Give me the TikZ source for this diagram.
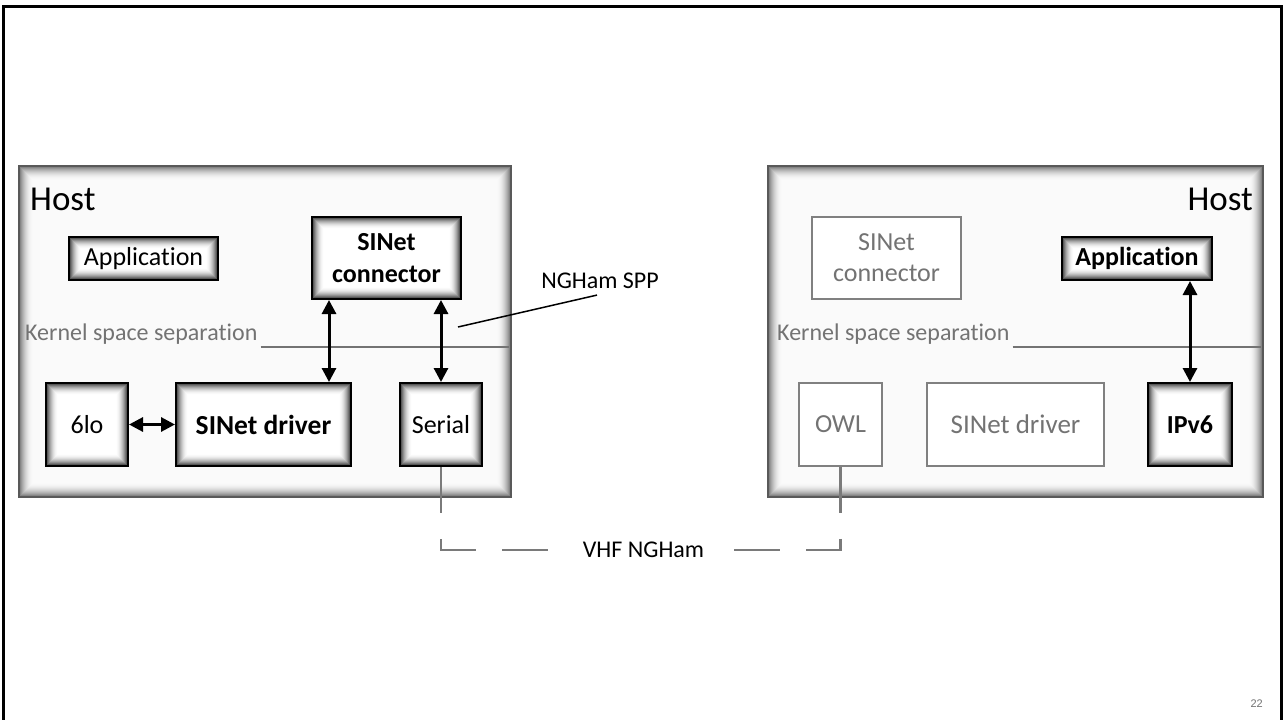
\documentclass[tikz,border=0pt]{standalone}
\usepackage{fontspec}
\setmainfont{Carlito}[Ligatures={NoCommon}]
\newfontfamily\arialf{Liberation Sans}
\usetikzlibrary{arrows.meta,calc}
\colorlet{hostedge}{black!55}
\colorlet{hostmid}{black!2}
\colorlet{dedge}{black!78}
\colorlet{dmid}{white}
\tikzset{
  glow/.style n args={4}{path picture={
    \foreach \gi in {0,...,#4}{
      \pgfmathsetmacro\gp{100*(1-\gi/#4)*(1-\gi/#4)}
      \pgfmathsetmacro\gd{\gi*#3/#4}
      \fill[#1!\gp!#2] ([xshift=\gd pt,yshift=-\gd pt]path picture bounding box.north west) rectangle ([xshift=-\gd pt,yshift=\gd pt]path picture bounding box.south east);
    }}},
  hostbox/.style={draw=black!65, line width=1.5pt, glow={hostedge}{hostmid}{14}{14}, inner sep=0pt},
  dbox/.style={draw=black, line width=2pt, glow={dedge}{dmid}{12}{12}, inner sep=0pt, align=center,
    font=\fontsize{26}{31}\selectfont},
  gbox/.style={draw=black!50, line width=1.5pt, fill=white, text=black!55, inner sep=0pt, align=center,
    font=\fontsize{26}{31}\selectfont},
  arr/.style={line width=3pt, {Triangle[length=14pt,width=14pt]}-{Triangle[length=14pt,width=14pt]}},
  kline/.style={draw=black!55, line width=1.8pt},
  ktext/.style={anchor=base west, text=black!55, font=\fontsize{24}{28}\selectfont, inner sep=0pt},
  htext/.style={font=\fontsize{35}{40}\selectfont, inner sep=0pt},
  radio/.style={draw=black!52, line width=2.5pt, dash pattern=on 46pt off 26pt},
}
\begin{document}
\begin{tikzpicture}[x=1pt,y=-1pt]
\useasboundingbox[fill=white] (0,0) rectangle (1285,720);
% slide frame
\draw[line width=3pt] (3.5,722) -- (3.5,6) -- (1281.5,6) -- (1281.5,722);

% left host
\node[hostbox, minimum width=492pt, minimum height=331pt] (hostL) at (265,331.5) {};
\node[htext, anchor=base west] (hostLt) at (30,210) {Host};
\node[dbox, minimum width=149pt, minimum height=43pt] (appL) at (143.5,258.5) {Application};
\node[dbox, minimum width=149pt, minimum height=82pt, font=\fontsize{26}{32}\selectfont\bfseries] (conL) at (386.5,258) {SINet\\connector};
\node[ktext] (kerL) at (25,340) {Kernel space separation};
\draw[kline] ([yshift=-7pt,xshift=3pt]kerL.base east) -- ([yshift=-7pt,xshift=-3pt]kerL.base east -| hostL.east);
\node[dbox, minimum width=82pt, minimum height=83pt] (sixlo) at (87,424.5) {6lo};
\node[dbox, minimum width=175pt, minimum height=83pt, font=\fontsize{27.5}{32}\selectfont\bfseries] (drvL) at (263.5,424.5) {SINet driver};
\node[dbox, minimum width=82pt, minimum height=83pt] (serial) at (441,424.5) {Serial};
\draw[arr] ([xshift=18pt]conL.south west) -- ([xshift=18pt]conL.south west |- drvL.north);
\draw[arr] (conL.south -| serial.north) -- (serial.north);
\draw[arr] (sixlo.east) -- (drvL.west);

% NGHam SPP label
\node[font=\fontsize{24}{28}\selectfont, inner sep=0pt] (spp) at (600,281) {NGHam SPP};
\coordinate (sppEnd) at (458,327);
\draw[line width=1.5pt] ([xshift=-3pt,yshift=-6pt]spp.south) -- (sppEnd);

% right host
\node[hostbox, minimum width=495pt, minimum height=331pt] (hostR) at (1015.5,331.5) {};
\node[htext, anchor=base east] (hostRt) at (1253,210) {Host};
\node[gbox, minimum width=149pt, minimum height=82pt] (conR) at (886.5,258) {SINet\\connector};
\node[dbox, minimum width=150pt, minimum height=43pt, font=\fontsize{26}{31}\selectfont\bfseries] (appR) at (1137,258.5) {Application};
\node[ktext] (kerR) at (777,340) {Kernel space separation};
\draw[kline] ([yshift=-7pt,xshift=3pt]kerR.base east) -- ([yshift=-7pt,xshift=-3pt]kerR.base east -| hostR.east);
\node[gbox, minimum width=83pt, minimum height=83pt] (owl) at (840.5,424.5) {OWL};
\node[gbox, minimum width=177pt, minimum height=83pt, font=\fontsize{27}{32}\selectfont] (drvR) at (1015.5,424.5) {SINet driver};
\node[dbox, minimum width=84pt, minimum height=83pt, font=\fontsize{26}{31}\selectfont\bfseries] (ipv6) at (1190,424.5) {IPv6};
\draw[arr] (appR.south -| ipv6.north) -- (ipv6.north);

% radio link
\node[font=\fontsize{24}{28}\selectfont, inner sep=3pt] (vhf) at (643.5,550) {VHF NGHam};
\coordinate (vl) at (560,550);
\coordinate (vr) at (726,550);
\draw[radio] (serial.south) -- (serial.south |- vl) -- (vl);
\draw[radio] (owl.south) -- (owl.south |- vr) -- (vr);

% page number
\node[anchor=base east, inner sep=0pt, text=black!55, font=\arialf\fontsize{11}{13}\selectfont] (pgnum) at (1263,707) {22};
\end{tikzpicture}
\end{document}
